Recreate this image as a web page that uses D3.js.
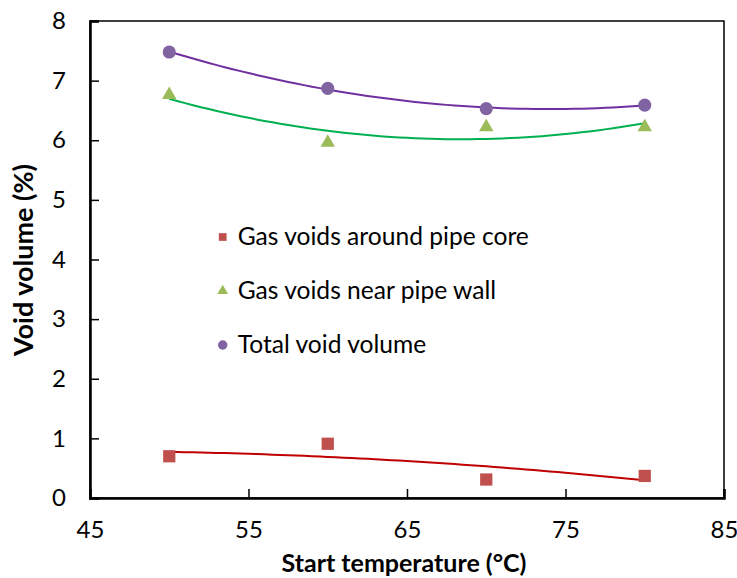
<!DOCTYPE html>
<html>
<head>
<meta charset="utf-8">
<script src="https://cdn.jsdelivr.net/npm/d3@7"></script>
<style>
	body { margin: 0; background: #fff; }
	text { font-family: Lato, "Open Sans", sans-serif; fill: #000; }
</style>
</head>
<body>
<script>
// Data
var temperatures = [50, 60, 70, 80];
var coreVoids = [0.70, 0.91, 0.31, 0.37];
var wallVoids = [6.76, 5.96, 6.22, 6.22];
var totalVoids = [7.48, 6.87, 6.53, 6.59];
var seriesNames = ["Gas voids around pipe core", "Gas voids near pipe wall", "Total void volume"];
var xTicks = [45, 55, 65, 75, 85];
var yTicks = [0, 1, 2, 3, 4, 5, 6, 7, 8];

// Define margins
var margin = {top: 21, right: 13, bottom: 80, left: 90};
var outer_width = 737;
var outer_height = 578;
var svg_width = outer_width - margin.left - margin.right;
var svg_height = outer_height - margin.top - margin.bottom;

var svg = d3.select("body")
			.append("svg")
			.attr("width", outer_width)
			.attr("height", outer_height)
			.append("g")
			.attr("transform", "translate(" + margin.left + "," + margin.top + ")");

var xScale = d3.scaleLinear().domain([45, 85]).range([0, svg_width]);
var yScale = d3.scaleLinear().domain([0, 8]).range([svg_height, 0]);

// least squares fit of a 2nd order polynomial (the excel trendline)
function polyFit2(xs, ys) {
	var n = xs.length, s = [0, 0, 0, 0, 0], t = [0, 0, 0];
	for (var i = 0; i < n; i++) {
		var p = 1;
		for (var k = 0; k < 5; k++) { s[k] += p; if (k < 3) t[k] += p * ys[i]; p *= xs[i]; }
	}
	var m = [[s[0], s[1], s[2], t[0]], [s[1], s[2], s[3], t[1]], [s[2], s[3], s[4], t[2]]];
	// gaussian elimination
	for (var c = 0; c < 3; c++) {
		for (var r = c + 1; r < 3; r++) {
			var f = m[r][c] / m[c][c];
			for (var j = c; j < 4; j++) m[r][j] -= f * m[c][j];
		}
	}
	var coef = [0, 0, 0];
	for (var r = 2; r >= 0; r--) {
		var v = m[r][3];
		for (var j = r + 1; j < 3; j++) v -= m[r][j] * coef[j];
		coef[r] = v / m[r][r];
	}
	return function(x) { return coef[0] + coef[1] * x + coef[2] * x * x; };
}

var series = [
	{name: seriesNames[0], values: coreVoids, marker: d3.symbolSquare, size: 150, color: "#C0504D", line: "#C00000"},
	{name: seriesNames[1], values: wallVoids, marker: d3.symbolTriangle, size: 90, color: "#9BBB59", line: "#00B050"},
	{name: seriesNames[2], values: totalVoids, marker: d3.symbolCircle, size: 135, color: "#8064A2", line: "#7030A0"}
];

// Trendlines
var lineGen = d3.line()
	.x(function(d) { return xScale(d[0]); })
	.y(function(d) { return yScale(d[1]); });

series.forEach(function(s) {
	var fit = polyFit2(temperatures, s.values);
	var pts = d3.range(50, 80.01, 0.5).map(function(x) { return [x, fit(x)]; });
	svg.append("path")
		.datum(pts)
		.attr("d", lineGen)
		.attr("fill", "none")
		.attr("stroke", s.line)
		.attr("stroke-width", 2);
});

// Markers
series.forEach(function(s) {
	svg.selectAll(null)
		.data(s.values)
		.enter()
		.append("path")
		.attr("d", d3.symbol().type(s.marker).size(s.size))
		.attr("transform", function(d, i) {
			return "translate(" + xScale(temperatures[i]) + "," + yScale(d) + ")";
		})
		.attr("fill", s.color);
});

// Frame
svg.append("rect")
	.attr("width", svg_width)
	.attr("height", svg_height)
	.attr("fill", "none")
	.attr("stroke", "#000")
	.attr("stroke-width", 1.5);

// Axes with inward ticks
var xAxis = d3.axisBottom(xScale).tickValues(xTicks).tickSize(-9).tickPadding(23).tickFormat(d3.format("d"));
var yAxis = d3.axisLeft(yScale).tickValues(yTicks).tickSize(-9).tickPadding(24).tickFormat(d3.format("d"));

var gx = svg.append("g")
	.attr("transform", "translate(0," + svg_height + ")")
	.call(xAxis);
var gy = svg.append("g")
	.call(yAxis);

[gx, gy].forEach(function(g) {
	g.select(".domain").attr("stroke", "#000").attr("stroke-width", 2.5);
	g.selectAll(".tick line").attr("stroke", "#000").attr("stroke-width", 1.5);
	g.selectAll(".tick text").style("font-family", "Lato, sans-serif").style("font-size", "24px").attr("fill", "#000");
});

// Axis titles
svg.append("text")
	.attr("x", 404 - margin.left)
	.attr("y", 572 - margin.top)
	.attr("text-anchor", "middle")
	.style("font-size", "25px")
	.style("font-weight", "bold")
	.text("Start temperature (°C)");

svg.append("text")
	.attr("transform", "translate(" + (33 - margin.left) + "," + (260 - margin.top) + ") rotate(-90)")
	.attr("text-anchor", "middle")
	.style("font-size", "27px")
	.style("font-weight", "bold")
	.text("Void volume (%)");

// Legend
var legend = svg.append("g")
	.attr("transform", "translate(" + (222.7 - margin.left) + "," + (237 - margin.top) + ")");

var legendSizes = [60, 50, 70];
series.forEach(function(s, i) {
	var row = legend.append("g").attr("transform", "translate(0," + (i * 54) + ")");
	row.append("path")
		.attr("d", d3.symbol().type(s.marker).size(legendSizes[i]))
		.attr("fill", s.color);
	row.append("text")
		.attr("x", 15)
		.attr("y", 8)
		.style("font-size", "24.6px")
		.text(s.name);
});
</script>
</body>
</html>
